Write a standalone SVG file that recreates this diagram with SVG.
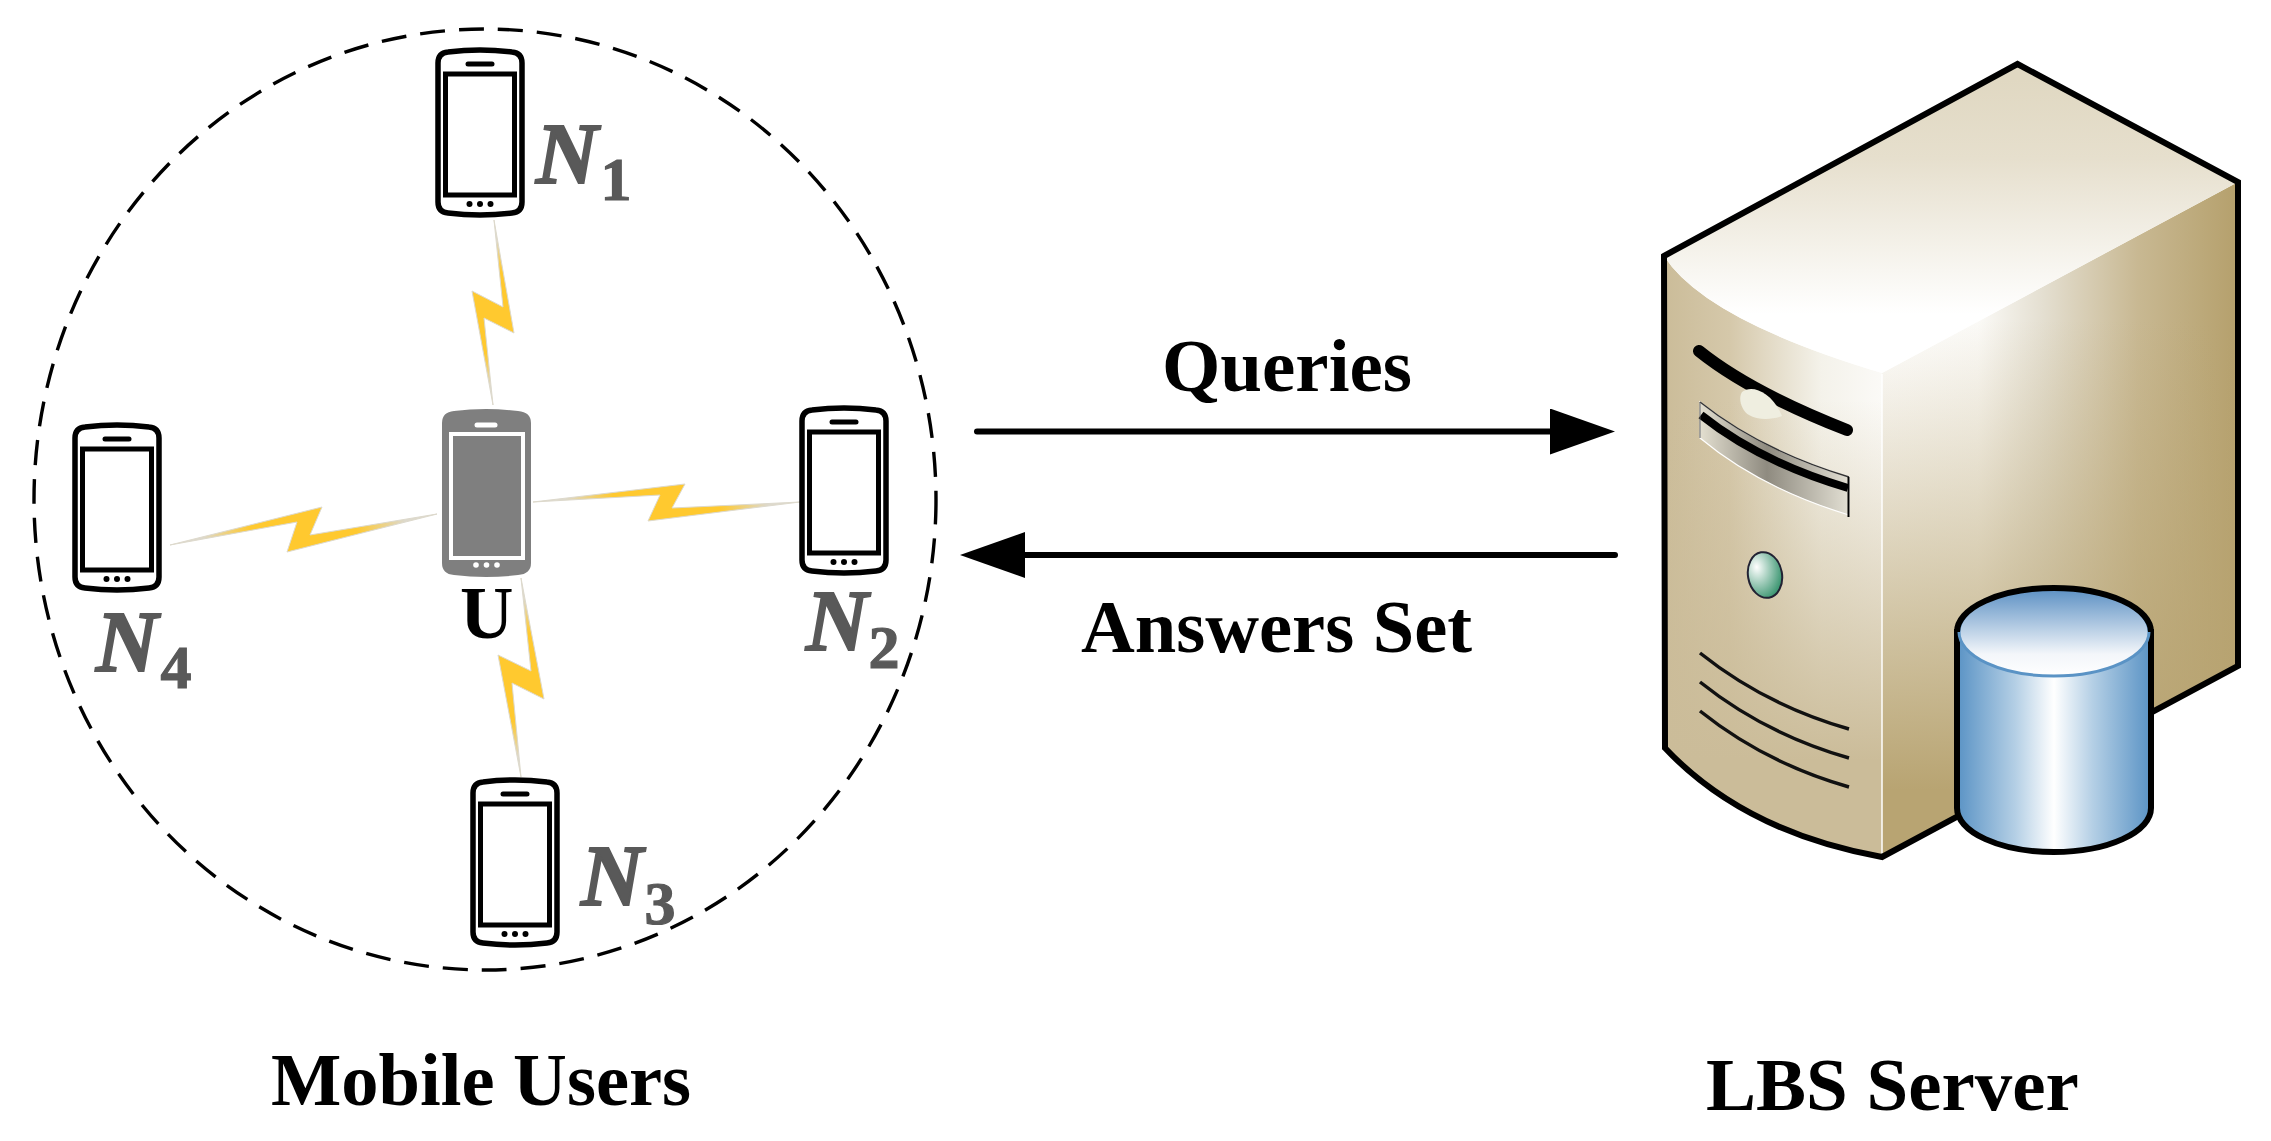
<svg xmlns="http://www.w3.org/2000/svg" width="2271" height="1141" viewBox="0 0 2271 1141">
<style>
.lbl{font-family:"Liberation Serif","Times New Roman",serif;font-weight:700;font-size:74.5px;fill:#000}
.nm{font-family:"Liberation Serif","Times New Roman",serif;font-weight:700;font-style:italic;font-size:86px;fill:#595959;stroke:#595959;stroke-width:2}
.sub{font-family:"Liberation Serif","Times New Roman",serif;font-weight:700;font-size:62px;fill:#595959;stroke:#595959;stroke-width:1.2;text-anchor:middle}
.bolt{stroke:#ddd9cc;stroke-width:1;stroke-linejoin:miter}
.arrow{stroke:#000;stroke-width:6;fill:none;stroke-linecap:round}
.vent{stroke:#111;stroke-width:3.5;fill:none}
</style>
<defs>
<linearGradient id="bh" x1="0" y1="0" x2="1" y2="0"><stop offset="0.12" stop-color="#ddd9cc"/><stop offset="0.3" stop-color="#ffc92f"/><stop offset="0.7" stop-color="#ffc92f"/><stop offset="0.88" stop-color="#ddd9cc"/></linearGradient>
<linearGradient id="bv" x1="0" y1="0" x2="0" y2="1"><stop offset="0.1" stop-color="#ddd9cc"/><stop offset="0.28" stop-color="#ffc92f"/><stop offset="0.72" stop-color="#ffc92f"/><stop offset="0.9" stop-color="#ddd9cc"/></linearGradient>
<linearGradient id="top" gradientUnits="userSpaceOnUse" x1="0" y1="80" x2="0" y2="340"><stop offset="0" stop-color="#e0d8c2"/><stop offset="0.3" stop-color="#e6dfcd"/><stop offset="0.9" stop-color="#fff"/><stop offset="1" stop-color="#fff"/></linearGradient>
<linearGradient id="lefth" gradientUnits="userSpaceOnUse" x1="1664" y1="0" x2="1882" y2="0"><stop offset="0" stop-color="#cbbc99"/><stop offset="0.3" stop-color="#d5c8aa"/><stop offset="0.72" stop-color="#f4f2ea"/><stop offset="1" stop-color="#fbfaf7"/></linearGradient>
<linearGradient id="leftv" gradientUnits="userSpaceOnUse" x1="0" y1="400" x2="0" y2="760"><stop offset="0" stop-color="#cbbc99" stop-opacity="0"/><stop offset="1" stop-color="#cbbc99" stop-opacity="1"/></linearGradient>
<linearGradient id="righth" gradientUnits="userSpaceOnUse" x1="1882" y1="0" x2="2238" y2="0"><stop offset="0" stop-color="#fff"/><stop offset="0.27" stop-color="#fbfaf7"/><stop offset="0.45" stop-color="#e4dfd1"/><stop offset="0.72" stop-color="#c8b892"/><stop offset="1" stop-color="#b5a06c"/></linearGradient>
<linearGradient id="rightv" gradientUnits="userSpaceOnUse" x1="0" y1="320" x2="0" y2="790"><stop offset="0" stop-color="#b8a472" stop-opacity="0"/><stop offset="1" stop-color="#b8a472" stop-opacity="1"/></linearGradient>
<linearGradient id="bay" x1="0" y1="0" x2="1" y2="0"><stop offset="0" stop-color="#e3dfd0"/><stop offset="0.45" stop-color="#8f8b80"/><stop offset="1" stop-color="#e2dfd3"/></linearGradient>
<linearGradient id="cyl" x1="0" y1="0" x2="1" y2="0"><stop offset="0" stop-color="#5a93c5"/><stop offset="0.3" stop-color="#b4cfe5"/><stop offset="0.5" stop-color="#fff"/><stop offset="0.7" stop-color="#b4cfe5"/><stop offset="1" stop-color="#5a93c5"/></linearGradient>
<linearGradient id="cylt" x1="0" y1="0" x2="0" y2="1"><stop offset="0" stop-color="#5a8fc3"/><stop offset="0.75" stop-color="#f3f6fa"/><stop offset="1" stop-color="#fff"/></linearGradient>
<radialGradient id="led" cx="0.3" cy="0.3" r="0.8"><stop offset="0" stop-color="#fff"/><stop offset="1" stop-color="#2f8f68"/></radialGradient>
<marker id="head" markerUnits="userSpaceOnUse" markerWidth="66" markerHeight="46" refX="0" refY="23" orient="auto"><polygon points="0,0 65,23 0,46" fill="#000"/></marker>
<symbol id="phone" overflow="visible">
<path d="M12,3Q44,-1 76,3Q86,4 86,14V153Q86,163 76,164Q44,168 12,164Q2,163 2,153V14Q2,4 12,3Z" fill="#fff" stroke="#000" stroke-width="5.5"/>
<rect x="9.5" y="25" width="69" height="121" fill="#fff" stroke="#000" stroke-width="5"/>
<line x1="32" y1="15" x2="56" y2="15" stroke="#000" stroke-width="5" stroke-linecap="round"/>
<circle cx="33.5" cy="155" r="3"/><circle cx="44" cy="155" r="3"/><circle cx="54.5" cy="155" r="3"/>
</symbol>
</defs>
<rect width="2271" height="1141" fill="#fff"/>
<g id="mobile-users-range">
<ellipse cx="485" cy="499.5" rx="451" ry="470.5" fill="none" stroke="#000" stroke-width="3.4" stroke-dasharray="25 14"/>
<text class="lbl" x="271" y="1105">Mobile Users</text>
</g>
<g id="connectors">
<polygon class="bolt" fill="url(#bv)" points="494,220 514,333 484,318 493,405 472,291 503,307"/>
<polygon class="bolt" fill="url(#bh)" points="533,502 685,484 672,508 800,502 648,521 660,495"/>
<polygon class="bolt" fill="url(#bv)" points="521,578 544,699 512,683 521,777 498,655 531,671"/>
<polygon class="bolt" fill="url(#bh)" points="170,545 322,507 310,535 437,514 287,552 297,522"/>
<line class="arrow" x1="977" y1="431.5" x2="1550" y2="431.5" marker-end="url(#head)"/>
<line class="arrow" x1="1615" y1="555" x2="1025" y2="555" marker-end="url(#head)"/>
<text class="lbl" x="1162" y="391" style="font-size:75px">Queries</text>
<text class="lbl" x="1081" y="652">Answers Set</text>
</g>
<g id="node-n1"><use href="#phone" x="436" y="49"/><text class="nm" x="536" y="183">N</text><text class="sub" x="616" y="200">1</text></g>
<g id="node-u">
<path d="M454,411Q486,407 518,411Q531,412 531,423V563Q531,574 518,575Q486,579 454,575Q442,574 442,563V423Q442,412 454,411Z" fill="#7f7f7f"/>
<rect x="451" y="434" width="72" height="124" fill="#7f7f7f" stroke="#fff" stroke-width="4"/>
<line x1="477" y1="425" x2="495" y2="425" stroke="#fff" stroke-width="5" stroke-linecap="round"/>
<circle cx="476" cy="565" r="2.8" fill="#fff"/><circle cx="486.5" cy="565" r="2.8" fill="#fff"/><circle cx="497" cy="565" r="2.8" fill="#fff"/>
<text x="460" y="638" font-family="'Liberation Serif','Times New Roman',serif" font-weight="700" font-size="74" fill="#000">U</text>
</g>
<g id="node-n2"><use href="#phone" x="800" y="407"/><text class="nm" x="806" y="650">N</text><text class="sub" x="884" y="668">2</text></g>
<g id="node-n3"><use href="#phone" x="471" y="779"/><text class="nm" x="581" y="905">N</text><text class="sub" x="660" y="924">3</text></g>
<g id="node-n4"><use href="#phone" x="73" y="424"/><text class="nm" x="96" y="671">N</text><text class="sub" x="176" y="688">4</text></g>
<g id="lbs-server">
<path d="M2238,182V666L1882,857V373Z" fill="url(#righth)"/>
<path d="M2238,182V666L1882,857V373Z" fill="url(#rightv)"/>
<path d="M1664,256Q1705,320 1882,373V857Q1744,832 1665,748Z" fill="url(#lefth)"/>
<path d="M1664,256Q1705,320 1882,373V857Q1744,832 1665,748Z" fill="url(#leftv)"/>
<path d="M2017.5,64L2238,182L1882,373Q1705,320 1664,256Z" fill="url(#top)"/>
<line x1="1882" y1="374" x2="1882" y2="855" stroke="#fff" stroke-width="1.5"/>
<path d="M1664,256L2017.5,64L2238,182V666L1882,857Q1744,832 1665,748Z" fill="none" stroke="#000" stroke-width="6" stroke-linejoin="miter"/>
<path d="M1699,351Q1750,392 1847,430" fill="none" stroke="#000" stroke-width="12" stroke-linecap="round"/>
<path d="M1742,392C1752,384 1772,392 1782,416C1772,420 1757,420 1749,415C1741,410 1738,398 1742,392Z" fill="#efeee0"/>
<path d="M1700,402Q1760,450 1849,477V515Q1760,488 1700,438Z" fill="url(#bay)" stroke="#fff" stroke-width="1.2"/>
<path d="M1700,402Q1760,450 1849,477" fill="none" stroke="#333" stroke-width="1.5"/>
<path d="M1701,415Q1760,462 1848,488" fill="none" stroke="#000" stroke-width="8"/>
<line x1="1848.5" y1="477" x2="1848.5" y2="517" stroke="#000" stroke-width="2"/>
<line x1="1700" y1="402" x2="1700" y2="438" stroke="#555" stroke-width="1"/>
<ellipse cx="1765" cy="575" rx="17" ry="23" transform="rotate(-10 1765 575)" fill="url(#led)" stroke="#223" stroke-width="2"/>
<path class="vent" d="M1700,653Q1765,705 1849,729"/>
<path class="vent" d="M1700,682Q1765,734 1849,758"/>
<path class="vent" d="M1700,711Q1765,763 1849,787"/>
<text class="lbl" x="1706" y="1110" style="font-size:75px">LBS Server</text>
</g>
<g id="database">
<path d="M1957,632V808A97,44 0 0 0 2151,808V632Z" fill="url(#cyl)" stroke="#000" stroke-width="6"/>
<ellipse cx="2054" cy="632" rx="95" ry="44" fill="url(#cylt)" stroke="#5a93c5" stroke-width="3"/>
<path d="M1957,632A97,44 0 0 1 2151,632" fill="none" stroke="#000" stroke-width="6"/>
</g>
</svg>
